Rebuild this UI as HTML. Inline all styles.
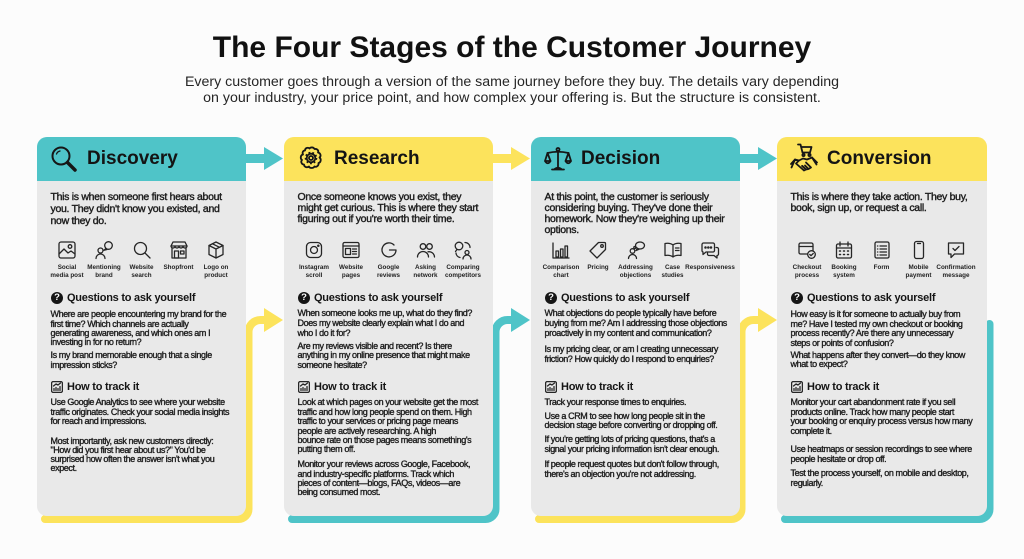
<!DOCTYPE html>
<html>
<head>
<meta charset="utf-8">
<style>
body{margin:0;background:#fcfcfc}
#p{position:relative;width:1024px;height:559px;overflow:hidden;font-family:"Liberation Sans",sans-serif;color:#1d1d1d;background:#fcfcfc}
.card{position:absolute;top:137px;width:209px;height:379px;border-radius:10px;background:#e9e9e9;overflow:hidden;z-index:1}
.hd{position:absolute;left:0;top:0;width:100%;height:44px}
.teal{background:#4fc4c8}
.yel{background:#fce35c}
.ht{position:absolute;left:50px;top:12px;font-size:19px;line-height:19px;font-weight:bold;color:#141414;white-space:nowrap}
.hi{position:absolute;left:13px;top:8px}
.in{position:absolute;left:13.5px;font-size:10.5px;letter-spacing:-0.3px;white-space:nowrap;-webkit-text-stroke:0.4px #1d1d1d}
.tx{position:absolute;left:13.5px;font-size:9px;letter-spacing:-0.4px;white-space:nowrap;-webkit-text-stroke:0.35px #1d1d1d}
.h2{position:absolute;left:30px;font-size:11px;line-height:14px;font-weight:bold;letter-spacing:-0.25px;white-space:nowrap;color:#151515}
.qi{position:absolute;left:14px;top:155px;width:12px;height:12px;border-radius:50%;background:#151515;color:#fff;font-size:9.5px;font-weight:bold;line-height:12px;text-align:center}
.ti{position:absolute;left:14px}
.ic{position:absolute;top:103px}
.lb{position:absolute;top:126.75px;width:60px;font-size:6.3px;line-height:8.5px;font-weight:bold;text-align:center;white-space:nowrap;color:#222}
svg.s{fill:none;stroke:#262626;stroke-width:1.3;stroke-linecap:round;stroke-linejoin:round}
svg.h{fill:none;stroke:#161616;stroke-width:1.8;stroke-linecap:round;stroke-linejoin:round}
</style>
</head>
<body>
<div id="p">

<div style="position:absolute;left:0;top:31px;width:1024px;text-align:center;font-size:30px;line-height:34px;font-weight:bold;color:#111">The Four Stages of the Customer Journey</div>
<div style="position:absolute;left:0;top:73.5px;width:1024px;text-align:center;font-size:14.2px;line-height:16.5px;color:#262626">Every customer goes through a version of the same journey before they buy. The details vary depending<br>on your industry, your price point, and how complex your offering is. But the structure is consistent.</div>

<!-- connectors -->
<svg width="1024" height="559" style="position:absolute;left:0;top:0;z-index:0">
  <g fill="none" stroke-width="8" stroke-linecap="round" stroke-linejoin="round">
    <path d="M45 519 H238.5 A10 10 0 0 0 248.5 509 V332 A12 12 0 0 1 260.5 320 H266" stroke="#fce35c"/>
    <path d="M292 519 H485.5 A10 10 0 0 0 495.5 509 V332 A12 12 0 0 1 507.5 320 H513" stroke="#4fc4c8"/>
    <path d="M539 519 H731.5 A10 10 0 0 0 741.5 509 V332 A12 12 0 0 1 753.5 320 H760" stroke="#fce35c"/>
    <path d="M785 519 H979.5 A10 10 0 0 0 989.5 509 V324" stroke="#4fc4c8"/>
  </g>
  <polygon points="264,308 283,320 264,332" fill="#fce35c"/>
  <polygon points="511,308 530,320 511,332" fill="#4fc4c8"/>
  <polygon points="758,308 777,320 758,332" fill="#fce35c"/>
  <!-- header arrows -->
  <rect x="240" y="154" width="26" height="9" fill="#4fc4c8"/>
  <polygon points="264,147 283,158.5 264,170" fill="#4fc4c8"/>
  <rect x="487" y="154" width="26" height="9" fill="#fce35c"/>
  <polygon points="511,147 530,158.5 511,170" fill="#fce35c"/>
  <rect x="734" y="154" width="26" height="9" fill="#4fc4c8"/>
  <polygon points="758,147 777,158.5 758,170" fill="#4fc4c8"/>
</svg>

<!-- CARD 1 -->
<div class="card" style="left:37px">
  <div class="hd teal"></div>
  <svg class="hi h" width="28" height="28" viewBox="0 0 28 28"><circle cx="11" cy="11" r="8.5" stroke-width="2"/><path d="M6.5 9 A5 5 0 0 1 10 6" stroke-width="1.3"/><path d="M17.5 17.5 L25 25" stroke-width="3.5"/></svg>
  <div class="ht">Discovery</div>
  <div class="in" style="top:54px;line-height:12px">This is when someone first hears about<br>you. They didn't know you existed, and<br>now they do.</div>

  <svg class="ic s" style="left:20px" width="20" height="20" viewBox="0 0 20 20"><rect x="2" y="2" width="16" height="16" rx="2"/><circle cx="13" cy="6.5" r="1.8"/><path d="M2 14 l5-5 l4 4 l3-2 l4 3"/></svg>
  <svg class="ic s" style="left:57px" width="20" height="20" viewBox="0 0 20 20"><circle cx="6.5" cy="10.5" r="2.5"/><path d="M2 18.5 a4.5 4.5 0 0 1 9 0"/><circle cx="14.5" cy="5.5" r="3.8"/><path d="M12 8.3 l-2 2 l3-0.8"/></svg>
  <svg class="ic s" style="left:94.5px" width="20" height="20" viewBox="0 0 20 20"><circle cx="8.5" cy="8.5" r="6"/><path d="M13 13 l5 5"/></svg>
  <svg class="ic s" style="left:131.5px" width="20" height="20" viewBox="0 0 20 20"><path d="M2 6 l2-4 h12 l2 4 z"/><path d="M2 6 a2 2 0 0 0 4 0 a2 2 0 0 0 4 0 a2 2 0 0 0 4 0 a2 2 0 0 0 4 0"/><path d="M3 8 v10 h14 v-10"/><rect x="5.5" y="11" width="4" height="7"/><rect x="11.5" y="11" width="3.5" height="3"/></svg>
  <svg class="ic s" style="left:169px" width="20" height="20" viewBox="0 0 20 20"><path d="M10 2 l7 3.5 v9 l-7 3.5 l-7-3.5 v-9 z"/><path d="M3 5.5 l7 3.5 l7-3.5 M10 9 v9 M6.5 3.8 l7 3.5"/></svg>
  <div class="lb" style="left:0px">Social<br>media post</div>
  <div class="lb" style="left:37px">Mentioning<br>brand</div>
  <div class="lb" style="left:74.5px">Website<br>search</div>
  <div class="lb" style="left:111.5px">Shopfront</div>
  <div class="lb" style="left:149px">Logo on<br>product</div>

  <div class="qi">?</div>
  <div class="h2" style="top:154px">Questions to ask yourself</div>
  <div class="tx" style="top:173.4px;line-height:9.2px">Where are people encountering my brand for the<br>first time? Which channels are actually<br>generating awareness, and which ones am I<br>investing in for no return?</div>
  <div class="tx" style="top:214.4px;line-height:9.2px">Is my brand memorable enough that a single<br>impression sticks?</div>

  <svg class="ti s" style="top:244px" width="12" height="12" viewBox="0 0 12 12" stroke-width="1.1"><rect x="0.6" y="0.6" width="10.8" height="10.8" rx="1.5"/><path d="M3 9.5 v-2 M5 9.5 v-3 M7 9.5 v-2 M9 9.5 v-4"/><path d="M2.5 5 l2.5-2 l2 1 l2.5-2"/></svg>
  <div class="h2" style="top:243px">How to track it</div>
  <div class="tx" style="top:261.3px;line-height:9.5px">Use Google Analytics to see where your website<br>traffic originates. Check your social media insights<br>for reach and impressions.</div>
  <div class="tx" style="top:299.5px;line-height:9px">Most importantly, ask new customers directly:<br>"How did you first hear about us?" You'd be<br>surprised how often the answer isn't what you<br>expect.</div>
</div>

<!-- CARD 2 -->
<div class="card" style="left:284px">
  <div class="hd yel"></div>
  <svg class="hi h" width="28" height="28" viewBox="0 0 28 28" stroke-width="1.6"><path d="M8 5.5 C8 3 11 2 12.5 3.5 C13.5 2 16.5 2 17.5 4 C20 3.5 22 5.5 21 7.5 C23.5 8 24.5 11 22.5 12.5 C24.5 14 24 17.5 21.5 18 C22 20.5 19.5 22.5 17.5 21.5 C16.5 23.5 12.5 23.5 12 21.5 C10 23 7 22 7 19.5 C4.5 19.5 3.5 16.5 5 15 C3 13.5 3.5 10 6 9.5 C5 7.5 6 5.5 8 5.5Z"/><circle cx="14" cy="13" r="2"/><circle cx="14" cy="13" r="4.3"/><circle cx="14" cy="13" r="5.4" stroke-width="1.8" stroke-dasharray="1.8 2" stroke-linecap="butt"/></svg>
  <div class="ht">Research</div>
  <div class="in" style="top:55px;line-height:11.2px">Once someone knows you exist, they<br>might get curious. This is where they start<br>figuring out if you're worth their time.</div>

  <svg class="ic s" style="left:20px" width="20" height="20" viewBox="0 0 20 20"><rect x="2.5" y="2.5" width="15" height="15" rx="4"/><circle cx="10" cy="10" r="3.5"/><circle cx="14.3" cy="5.7" r="0.6" fill="#262626"/></svg>
  <svg class="ic s" style="left:57px" width="20" height="20" viewBox="0 0 20 20"><rect x="2" y="2.5" width="16" height="15" rx="1.5"/><path d="M2 6 h16"/><rect x="4.5" y="8.5" width="5" height="6"/><path d="M11.5 9 h4 M11.5 11.5 h4 M11.5 14 h4"/></svg>
  <svg class="ic s" style="left:94.5px" width="20" height="20" viewBox="0 0 20 20" stroke-width="2"><path d="M15 5 A7 7 0 1 0 17 10 H10.5"/></svg>
  <svg class="ic s" style="left:131.5px" width="20" height="20" viewBox="0 0 20 20"><circle cx="7" cy="6.5" r="2.8"/><circle cx="13.5" cy="6.5" r="2.8"/><path d="M1.5 17 a5.5 5.5 0 0 1 11 0"/><path d="M12 11.8 a5.5 5.5 0 0 1 6.5 5.2"/></svg>
  <svg class="ic s" style="left:169px" width="20" height="20" viewBox="0 0 20 20"><circle cx="6" cy="6" r="3.8"/><path d="M4 9.5 l-1.5 2"/><circle cx="14" cy="12.5" r="2"/><path d="M10 19 a4 4 0 0 1 8 0"/><path d="M12 2.5 a5 5 0 0 1 5 5"/><path d="M3 13 a5 5 0 0 0 4 4.5"/></svg>
  <div class="lb" style="left:0px">Instagram<br>scroll</div>
  <div class="lb" style="left:37px">Website<br>pages</div>
  <div class="lb" style="left:74.5px">Google<br>reviews</div>
  <div class="lb" style="left:111.5px">Asking<br>network</div>
  <div class="lb" style="left:149px">Comparing<br>competitors</div>

  <div class="qi">?</div>
  <div class="h2" style="top:154px">Questions to ask yourself</div>
  <div class="tx" style="top:172.4px;line-height:9.8px">When someone looks me up, what do they find?<br>Does my website clearly explain what I do and<br>who I do it for?</div>
  <div class="tx" style="top:205.1px;line-height:9.2px">Are my reviews visible and recent? Is there<br>anything in my online presence that might make<br>someone hesitate?</div>

  <svg class="ti s" style="top:243.7px" width="12" height="12" viewBox="0 0 12 12" stroke-width="1.1"><rect x="0.6" y="0.6" width="10.8" height="10.8" rx="1.5"/><path d="M3 9.5 v-2 M5 9.5 v-3 M7 9.5 v-2 M9 9.5 v-4"/><path d="M2.5 5 l2.5-2 l2 1 l2.5-2"/></svg>
  <div class="h2" style="top:242.7px">How to track it</div>
  <div class="tx" style="top:261.3px;line-height:9.4px">Look at which pages on your website get the most<br>traffic and how long people spend on them. High<br>traffic to your services or pricing page means<br>people are actively researching. A high<br>bounce rate on those pages means something's<br>putting them off.</div>
  <div class="tx" style="top:323.3px;line-height:9.3px">Monitor your reviews across Google, Facebook,<br>and industry-specific platforms. Track which<br>pieces of content—blogs, FAQs, videos—are<br>being consumed most.</div>
</div>

<!-- CARD 3 -->
<div class="card" style="left:531px">
  <div class="hd teal"></div>
  <svg class="hi h" width="28" height="28" viewBox="0 0 28 28" stroke-width="1.5"><circle cx="14" cy="4.5" r="1.5"/><path d="M14 6 V22 M8 24.5 H20 M10 24.5 Q14 21 18 24.5"/><path d="M3.5 8 Q14 5.5 24.5 8"/><path d="M3.5 8 L1 16 M3.5 8 L6.5 16 M1 16 Q3.75 20.5 6.5 16 Z"/><path d="M24.5 8 L21.5 16 M24.5 8 L27 16 M21.5 16 Q24.25 20.5 27 16 Z"/></svg>
  <div class="ht">Decision</div>
  <div class="in" style="top:55.3px;line-height:10.8px">At this point, the customer is seriously<br>considering buying. They've done their<br>homework. Now they're weighing up their<br>options.</div>

  <svg class="ic s" style="left:20px" width="20" height="20" viewBox="0 0 20 20"><path d="M2 3 v15 h16"/><rect x="5" y="11" width="2.5" height="6"/><rect x="9.5" y="9" width="2.5" height="8"/><rect x="14" y="6" width="2.5" height="11"/></svg>
  <svg class="ic s" style="left:57px" width="20" height="20" viewBox="0 0 20 20"><path d="M10.5 2.5 h6 a1 1 0 0 1 1 1 v6 l-8.5 8.5 l-7-7 z"/><circle cx="14" cy="6" r="1.3"/></svg>
  <svg class="ic s" style="left:94.5px" width="20" height="20" viewBox="0 0 20 20"><circle cx="6.5" cy="11" r="2.3"/><path d="M2.5 18.5 a4 4 0 0 1 8 0"/><ellipse cx="14" cy="5.5" rx="4.5" ry="3.5"/><path d="M11.5 8.2 l-1.5 2.3 l3-1.2"/><circle cx="8.8" cy="7.5" r="1"/></svg>
  <svg class="ic s" style="left:131.5px" width="20" height="20" viewBox="0 0 20 20"><path d="M10 5 c-2-1.5 -5-2 -8-1.5 v12 c3-0.5 6 0 8 1.5 c2-1.5 5-2 8-1.5 v-12 c-3-0.5 -6 0 -8 1.5 z M10 5 v12"/><path d="M12.5 8 h3.5 M12.5 10.5 h3.5"/></svg>
  <svg class="ic s" style="left:169px" width="20" height="20" viewBox="0 0 20 20"><path d="M3.5 3 h9.5 a1.5 1.5 0 0 1 1.5 1.5 v6 a1.5 1.5 0 0 1 -1.5 1.5 h-7 l-3 2.5 v-2.5 a1.5 1.5 0 0 1 -1 -1.5 v-6 a1.5 1.5 0 0 1 1.5 -1.5z"/><path d="M16 7.5 h1 a1.5 1.5 0 0 1 1.5 1.5 v5 a1.5 1.5 0 0 1 -1.5 1.5 v2.5 l-3-2.5 h-5 a1.5 1.5 0 0 1 -1.5 -1.5 v-1"/><circle cx="5.5" cy="7.5" r="0.6" fill="#262626"/><circle cx="8.3" cy="7.5" r="0.6" fill="#262626"/><circle cx="11" cy="7.5" r="0.6" fill="#262626"/></svg>
  <div class="lb" style="left:0px">Comparison<br>chart</div>
  <div class="lb" style="left:37px">Pricing</div>
  <div class="lb" style="left:74.5px">Addressing<br>objections</div>
  <div class="lb" style="left:111.5px">Case<br>studies</div>
  <div class="lb" style="left:149px">Responsiveness</div>

  <div class="qi">?</div>
  <div class="h2" style="top:154px">Questions to ask yourself</div>
  <div class="tx" style="top:172.4px;line-height:9.8px">What objections do people typically have before<br>buying from me? Am I addressing those objections<br>proactively in my content and communication?</div>
  <div class="tx" style="top:208.4px;line-height:9.3px">Is my pricing clear, or am I creating unnecessary<br>friction? How quickly do I respond to enquiries?</div>

  <svg class="ti s" style="top:243.7px" width="12" height="12" viewBox="0 0 12 12" stroke-width="1.1"><rect x="0.6" y="0.6" width="10.8" height="10.8" rx="1.5"/><path d="M3 9.5 v-2 M5 9.5 v-3 M7 9.5 v-2 M9 9.5 v-4"/><path d="M2.5 5 l2.5-2 l2 1 l2.5-2"/></svg>
  <div class="h2" style="top:242.7px">How to track it</div>
  <div class="tx" style="top:261.3px;line-height:9.3px">Track your response times to enquiries.</div>
  <div class="tx" style="top:275px;line-height:9.3px">Use a CRM to see how long people sit in the<br>decision stage before converting or dropping off.</div>
  <div class="tx" style="top:298.3px;line-height:9.3px">If you're getting lots of pricing questions, that's a<br>signal your pricing information isn't clear enough.</div>
  <div class="tx" style="top:323.3px;line-height:9.3px">If people request quotes but don't follow through,<br>there's an objection you're not addressing.</div>
</div>

<!-- CARD 4 -->
<div class="card" style="left:777px;width:210px">
  <div class="hd yel"></div>
  <svg class="hi h" width="28" height="32" viewBox="0 0 28 32" style="top:6px" stroke-width="1.5"><path d="M8 1.5 h2.5 l2 8 h7.5 l1.5-5.5 h-10"/><circle cx="13.5" cy="12" r="1.1"/><circle cx="19.5" cy="12" r="1.1"/><path d="M1 21 l4-4.5 l4 1 l4-2 l4 1 l5-2 l5 5"/><path d="M5 16.5 l-3.5 8 M22 14.5 l4.5 7"/><path d="M9 17.5 l-3 3 l8 7 l2-1 l-4-3.5 M14 27.5 l2-1 l-3.5-3.5 M16 26.5 l2.5-0.5 l-3.5-3.5 M18.5 26 l2.5-1.5 l-5-5"/></svg>
  <div class="ht">Conversion</div>
  <div class="in" style="top:55px;line-height:11.3px">This is where they take action. They buy,<br>book, sign up, or request a call.</div>

  <svg class="ic s" style="left:20px" width="20" height="20" viewBox="0 0 20 20"><rect x="2" y="3" width="14" height="11" rx="1.5"/><path d="M2 6.5 h14"/><circle cx="14.5" cy="14.5" r="3.8" fill="#e9e9e9"/><path d="M12.8 14.5 l1.2 1.2 l2.2-2.2"/></svg>
  <svg class="ic s" style="left:57px" width="20" height="20" viewBox="0 0 20 20"><rect x="2.5" y="4" width="15" height="14" rx="1.5"/><path d="M2.5 8 h15 M6 2 v4 M14 2 v4"/><path d="M5.5 11 h1 M9.5 11 h1 M13.5 11 h1 M5.5 14.5 h1 M9.5 14.5 h1 M13.5 14.5 h1" stroke-width="1.5"/></svg>
  <svg class="ic s" style="left:94.5px" width="20" height="20" viewBox="0 0 20 20"><rect x="3" y="2" width="14" height="16" rx="1.5"/><path d="M8 6 h6.5 M8 9 h6.5 M8 12 h6.5 M8 15 h6.5 M5.5 6 h0.3 M5.5 9 h0.3 M5.5 12 h0.3 M5.5 15 h0.3"/></svg>
  <svg class="ic s" style="left:131.5px" width="20" height="20" viewBox="0 0 20 20"><rect x="5.5" y="1.5" width="9" height="17" rx="2"/><path d="M8.5 3.5 h3"/></svg>
  <svg class="ic s" style="left:169px" width="20" height="20" viewBox="0 0 20 20"><path d="M2.5 3 h15 v11 h-9 l-3.5 3.5 v-3.5 h-2.5 z"/><path d="M7 8.5 l2 2 l4-4"/></svg>
  <div class="lb" style="left:0px">Checkout<br>process</div>
  <div class="lb" style="left:37px">Booking<br>system</div>
  <div class="lb" style="left:74.5px">Form</div>
  <div class="lb" style="left:111.5px">Mobile<br>payment</div>
  <div class="lb" style="left:149px">Confirmation<br>message</div>

  <div class="qi">?</div>
  <div class="h2" style="top:154px">Questions to ask yourself</div>
  <div class="tx" style="top:173.3px;line-height:9.4px">How easy is it for someone to actually buy from<br>me? Have I tested my own checkout or booking<br>process recently? Are there any unnecessary<br>steps or points of confusion?</div>
  <div class="tx" style="top:214px;line-height:9.3px">What happens after they convert—do they know<br>what to expect?</div>

  <svg class="ti s" style="top:243.7px" width="12" height="12" viewBox="0 0 12 12" stroke-width="1.1"><rect x="0.6" y="0.6" width="10.8" height="10.8" rx="1.5"/><path d="M3 9.5 v-2 M5 9.5 v-3 M7 9.5 v-2 M9 9.5 v-4"/><path d="M2.5 5 l2.5-2 l2 1 l2.5-2"/></svg>
  <div class="h2" style="top:242.7px">How to track it</div>
  <div class="tx" style="top:261.3px;line-height:9.4px">Monitor your cart abandonment rate if you sell<br>products online. Track how many people start<br>your booking or enquiry process versus how many<br>complete it.</div>
  <div class="tx" style="top:308.3px;line-height:9.3px">Use heatmaps or session recordings to see where<br>people hesitate or drop off.</div>
  <div class="tx" style="top:332.3px;line-height:9.4px">Test the process yourself, on mobile and desktop,<br>regularly.</div>
</div>

</div>
</body>
</html>
